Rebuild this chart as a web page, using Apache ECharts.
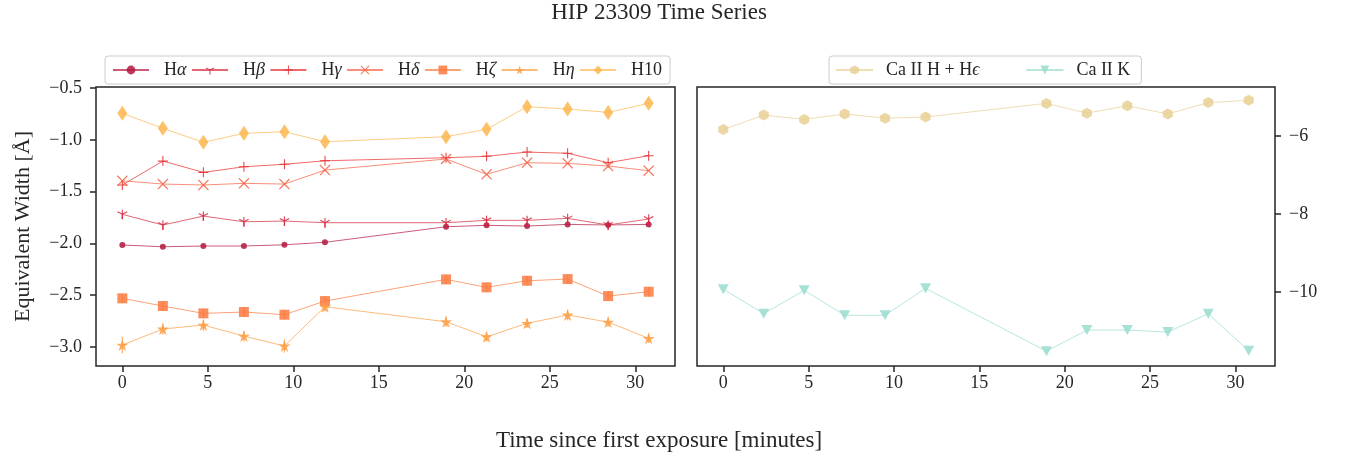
<!DOCTYPE html>
<html>
<head>
<meta charset="utf-8">
<script src="https://cdn.jsdelivr.net/npm/echarts@6/dist/echarts.min.js"></script>
<style>
  html, body { margin: 0; padding: 0; background: #ffffff; }
  #chart { width: 1348px; height: 459px; }
</style>
</head>
<body>
<div id="chart"></div>
<script>
// Exposure times, minutes since the first exposure
const times = [0, 2.37, 4.74, 7.11, 9.48, 11.85, 18.93, 21.30, 23.67, 26.04, 28.41, 30.78];

// Balmer-line equivalent widths [Å]
const hAlpha   = [-2.015, -2.032, -2.025, -2.025, -2.013, -1.989, -1.839, -1.825, -1.832, -1.816, -1.822, -1.816];
const hBeta    = [-1.719, -1.822, -1.736, -1.791, -1.784, -1.800, -1.800, -1.777, -1.777, -1.758, -1.822, -1.764];
const hGamma   = [-1.436, -1.205, -1.314, -1.260, -1.236, -1.202, -1.173, -1.159, -1.118, -1.130, -1.221, -1.153];
const hDelta   = [-1.395, -1.427, -1.436, -1.420, -1.427, -1.292, -1.185, -1.333, -1.221, -1.227, -1.253, -1.298];
const hZeta    = [-2.530, -2.604, -2.675, -2.662, -2.688, -2.556, -2.347, -2.424, -2.360, -2.344, -2.508, -2.466];
const hEta     = [-2.981, -2.826, -2.788, -2.894, -2.990, -2.611, -2.756, -2.901, -2.771, -2.691, -2.759, -2.916];
const h10      = [-0.744, -0.889, -1.024, -0.937, -0.922, -1.018, -0.970, -0.899, -0.680, -0.703, -0.735, -0.648];

// Uncertainties for the lines whose error bars stand out from the markers
const hBetaErr = [0.045, 0.045, 0.045, 0.045, 0.045, 0.045, 0.045, 0.045, 0.045, 0.045, 0.045, 0.045];
const hZetaErr = [0.045, 0.045, 0.045, 0.045, 0.045, 0.045, 0.045, 0.045, 0.045, 0.045, 0.045, 0.045];
const hEtaErr  = [0.080, 0.055, 0.055, 0.050, 0.065, 0.045, 0.050, 0.045, 0.045, 0.050, 0.045, 0.045];

// Calcium lines [Å]
const caHEps   = [-5.84, -5.47, -5.58, -5.44, -5.55, -5.52, -5.17, -5.42, -5.23, -5.44, -5.15, -5.09];
const caK      = [-9.93, -10.56, -9.96, -10.60, -10.60, -9.91, -11.52, -10.98, -10.98, -11.03, -10.56, -11.51];

// Tick positions
const ticksX      = [0, 5, 10, 15, 20, 25, 30];
const ticksYLeft  = [-3, -2.5, -2, -1.5, -1, -0.5];
const ticksYRight = [-10, -8, -6];

const SERIF = "'Liberation Serif', 'DejaVu Serif', serif";
const INK = '#262626';

// Marker outlines (10x10 boxes)
const PLUS  = 'path://M4.45,0L5.55,0L5.55,4.45L10,4.45L10,5.55L5.55,5.55L5.55,10L4.45,10L4.45,5.55L0,5.55L0,4.45L4.45,4.45Z';
const CROSS = 'path://M0,0.8L0.8,0L5,4.2L9.2,0L10,0.8L5.8,5L10,9.2L9.2,10L5,5.8L0.8,10L0,9.2L4.2,5Z';
const TRI_DOWN = 'path://M4.95,0L5.05,0L5.05,0.02L4.95,0.02Z' +
  'M4.45,5L5.55,5L5.55,10L4.45,10Z' +
  'M5.275,4.524L0.945,2.024L0.395,2.976L4.725,5.476Z' +
  'M4.725,4.524L9.055,2.024L9.605,2.976L5.275,5.476Z';
const STAR  = 'path://M5,0L6.123,3.455L9.755,3.455L6.816,5.59L7.939,9.045L5,6.91L2.061,9.045L3.184,5.59L0.245,3.455L3.877,3.455Z';
const HEX   = 'path://M5,0L9.33,2.5L9.33,7.5L5,10L0.67,7.5L0.67,2.5Z';
const TRI_V = 'path://M0,0L10,0L5,10Z';

function pairs(xs, ys) { return xs.map((x, i) => [x, ys[i]]); }

function lineSeries(name, ys, color, symbol, size, axis) {
  return {
    name: name,
    type: 'line',
    xAxisIndex: axis, yAxisIndex: axis,
    data: pairs(times, ys),
    symbol: symbol,
    symbolSize: size,
    showSymbol: true,
    lineStyle: { color: color, width: 1, opacity: 0.7 },
    itemStyle: { color: color, opacity: 0.85, borderWidth: 0 },
    emphasis: { disabled: true },
    z: 3
  };
}

function errorSeries(name, ys, errs, color, axis) {
  return {
    name: name + ' err',
    type: 'custom',
    xAxisIndex: axis, yAxisIndex: axis,
    data: times.map((t, i) => [t, ys[i], errs[i]]),
    encode: { x: 0, y: 1 },
    silent: true,
    z: 2,
    renderItem: function (params, api) {
      const x = api.value(0), y = api.value(1), e = api.value(2);
      const p1 = api.coord([x, y + e]);
      const p2 = api.coord([x, y - e]);
      return {
        type: 'line',
        shape: { x1: p1[0], y1: p1[1], x2: p2[0], y2: p2[1] },
        style: { stroke: color, lineWidth: 1.2, opacity: 0.8 }
      };
    }
  };
}

const C = {
  ha: '#b3173e', hb: '#d4263c', hg: '#e8292c', hd: '#f65e42',
  hz: '#fa7a3f', he: '#fd9d44', h10: '#fdb64f',
  caH: '#e8cf94', caK: '#99dccf'
};

const legendLabels = {
  'Hα': '{r|H}{i|α}', 'Hβ': '{r|H}{i|β}', 'Hγ': '{r|H}{i|γ}', 'Hδ': '{r|H}{i|δ}',
  'Hζ': '{r|H}{i|ζ}', 'Hη': '{r|H}{i|η}', 'H10': '{r|H10}',
  'Ca II H + Hϵ': '{r|Ca II H + H}{i|ϵ}', 'Ca II K': '{r|Ca II K}'
};

const minus = s => s.replace('-', '\u2212');

function legendText(pad) {
  return {
    fontFamily: SERIF, fontSize: 18, color: INK, padding: [0, 0, 0, pad],
    rich: {
      r: { fontFamily: SERIF, fontSize: 18, color: INK },
      i: { fontFamily: SERIF, fontSize: 18, color: INK, fontStyle: 'italic' }
    }
  };
}

function xAxisDef(grid) {
  return {
    gridIndex: grid, type: 'value', min: -1.54, max: 32.32,
    axisLine: { show: false, onZero: false },
    axisTick: { show: true, customValues: ticksX, length: 6, lineStyle: { color: INK, width: 1.5 } },
    axisLabel: { customValues: ticksX, margin: 8, fontFamily: SERIF, fontSize: 18, color: INK },
    splitLine: { show: false }
  };
}

const chart = echarts.init(document.getElementById('chart'), null, { renderer: 'canvas' });

chart.setOption({
  animation: false,
  backgroundColor: '#ffffff',
  textStyle: { fontFamily: SERIF },
  graphic: [
    { type: 'text', x: 659, y: 13, style: { text: 'HIP 23309 Time Series', font: "23px 'Liberation Serif', serif", fill: INK, textAlign: 'center', textVerticalAlign: 'middle' } },
    { type: 'text', x: 659, y: 441, style: { text: 'Time since first exposure [minutes]', font: "23px 'Liberation Serif', serif", fill: INK, textAlign: 'center', textVerticalAlign: 'middle' } }
  ],
  grid: [
    { left: 96, top: 87, width: 579, height: 279, show: true, borderColor: INK, borderWidth: 1.5, backgroundColor: 'transparent' },
    { left: 697, top: 87, width: 578, height: 279, show: true, borderColor: INK, borderWidth: 1.5, backgroundColor: 'transparent' }
  ],
  legend: [
    {
      data: ['Hα', 'Hβ', 'Hγ', 'Hδ', 'Hζ', 'Hη', 'H10'],
      left: 105, top: 56, orient: 'horizontal',
      itemWidth: 36, itemHeight: 11, itemGap: 4.5,
      padding: [5, 8, 5, 7],
      borderColor: '#cccccc', borderWidth: 1, borderRadius: 3, backgroundColor: '#ffffff',
      selectedMode: false,
      formatter: n => legendLabels[n],
      textStyle: legendText(10)
    },
    {
      data: ['Ca II H + Hϵ', 'Ca II K'],
      left: 829, top: 56, orient: 'horizontal',
      itemWidth: 37, itemHeight: 11, itemGap: 46,
      padding: [5, 11, 5, 6],
      borderColor: '#cccccc', borderWidth: 1, borderRadius: 3, backgroundColor: '#ffffff',
      selectedMode: false,
      formatter: n => legendLabels[n],
      textStyle: legendText(8)
    }
  ],
  xAxis: [xAxisDef(0), xAxisDef(1)],
  yAxis: [
    {
      gridIndex: 0, type: 'value', position: 'left', min: -3.183, max: -0.49,
      name: 'Equivalent Width [Å]', nameLocation: 'middle', nameGap: 62,
      nameTextStyle: { fontFamily: SERIF, fontSize: 22, color: INK },
      axisLine: { show: false, onZero: false },
      axisTick: { show: true, customValues: ticksYLeft, length: 6, lineStyle: { color: INK, width: 1.5 } },
      axisLabel: { customValues: ticksYLeft, margin: 14, fontFamily: SERIF, fontSize: 18, color: INK,
                   formatter: v => minus(v.toFixed(1)) },
      splitLine: { show: false }
    },
    {
      gridIndex: 1, type: 'value', position: 'right', min: -11.9, max: -4.75,
      axisLine: { show: false, onZero: false },
      axisTick: { show: true, customValues: ticksYRight, length: 6, lineStyle: { color: INK, width: 1.5 } },
      axisLabel: { customValues: ticksYRight, margin: 14, fontFamily: SERIF, fontSize: 18, color: INK,
                   formatter: v => minus(String(Math.round(v))) },
      splitLine: { show: false }
    }
  ],
  series: [
    errorSeries('Hβ', hBeta, hBetaErr, C.hb, 0),
    errorSeries('Hζ', hZeta, hZetaErr, C.hz, 0),
    errorSeries('Hη', hEta, hEtaErr, C.he, 0),
    lineSeries('Hα', hAlpha, C.ha, 'circle', 6, 0),
    lineSeries('Hβ', hBeta, C.hb, TRI_DOWN, 10, 0),
    lineSeries('Hγ', hGamma, C.hg, PLUS, 10, 0),
    lineSeries('Hδ', hDelta, C.hd, CROSS, 11, 0),
    lineSeries('Hζ', hZeta, C.hz, 'rect', 10, 0),
    lineSeries('Hη', hEta, C.he, STAR, 12, 0),
    lineSeries('H10', h10, C.h10, 'diamond', [10, 15], 0),
    lineSeries('Ca II H + Hϵ', caHEps, C.caH, HEX, [10, 11], 1),
    lineSeries('Ca II K', caK, C.caK, TRI_V, [11, 10], 1)
  ]
});
</script>
</body>
</html>
